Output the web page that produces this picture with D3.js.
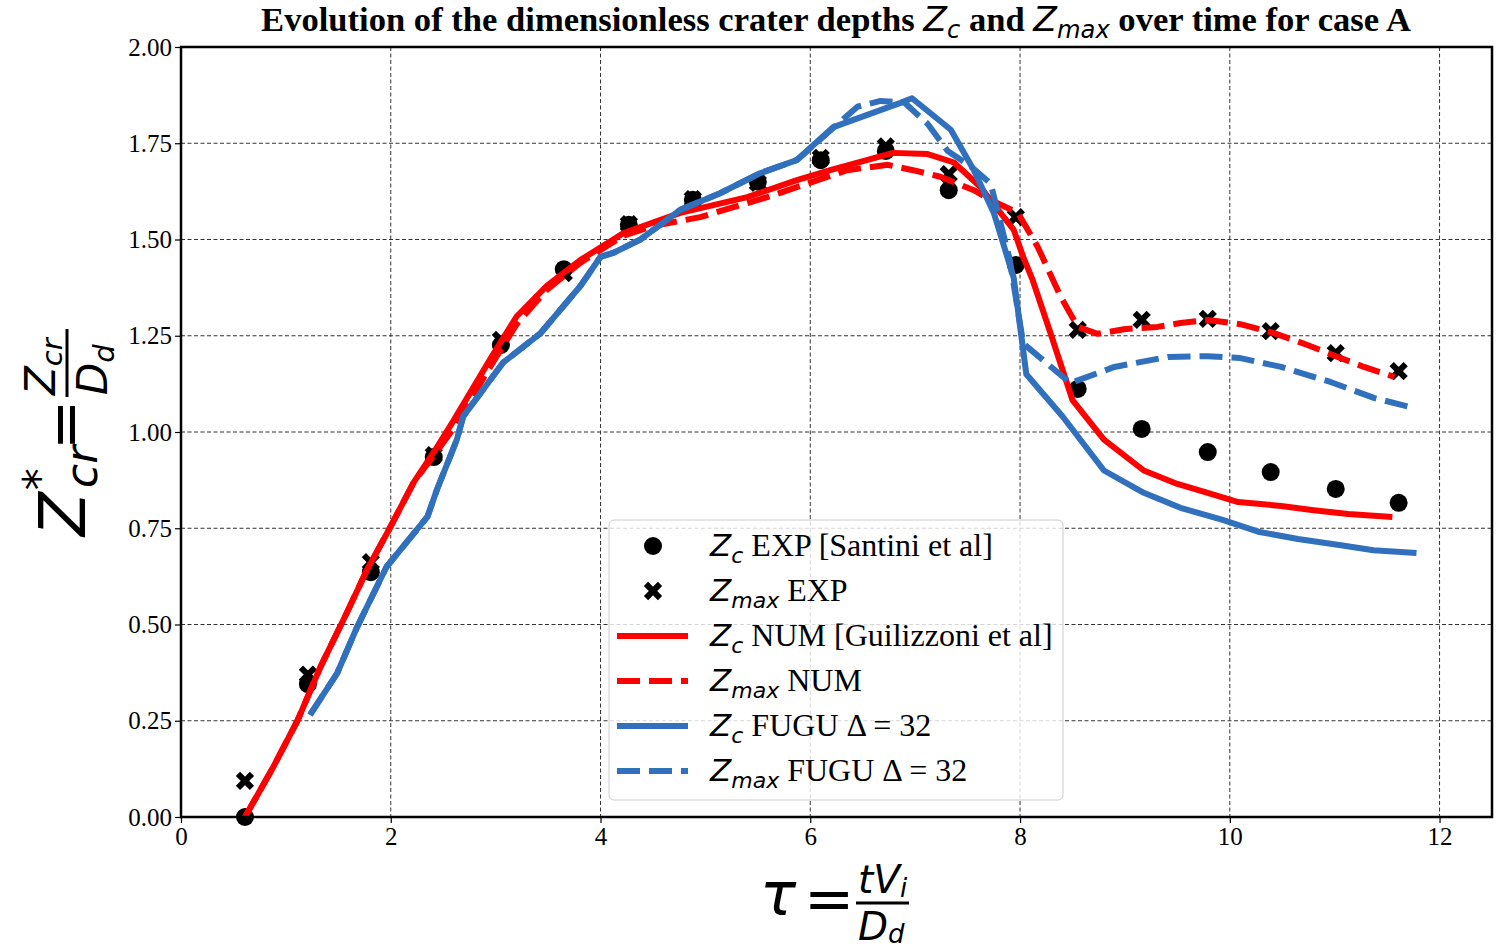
<!DOCTYPE html>
<html>
<head>
<meta charset="utf-8">
<script src="https://cdn.jsdelivr.net/npm/d3@7"></script>
<style>
  html, body { margin: 0; padding: 0; background: #fff; }
  svg { display: block; }
</style>
</head>
<body>
<svg id="chart" width="1498" height="950"></svg>
<script>
// ---------------- data ----------------
const tauExp  = [0.61,1.21,1.81,2.41,3.05,3.65,4.27,4.88,5.50,6.10,6.72,7.32,7.96,8.55,9.16,9.79,10.39,11.01,11.61];
const zcExp   = [0.000,0.345,0.636,0.935,1.226,1.423,1.538,1.603,1.650,1.706,1.730,1.628,1.434,1.112,1.008,0.948,0.896,0.852,0.816];
const zmaxExp = [0.094,0.370,0.662,0.940,1.239,1.413,1.540,1.605,1.647,1.712,1.742,1.670,1.558,1.265,1.291,1.294,1.262,1.205,1.158];

const tauZcNum = [0.61,0.88,1.11,1.33,1.58,1.77,1.99,2.22,2.44,2.60,2.95,3.20,3.49,3.81,4.22,4.76,5.40,5.88,6.19,6.79,7.12,7.37,7.62,7.94,8.03,8.12,8.29,8.50,8.80,9.18,9.50,9.75,10.08,10.49,10.80,11.13,11.55];
const zcNum    = [0.00,0.13,0.25,0.39,0.53,0.64,0.75,0.87,0.96,1.03,1.19,1.30,1.38,1.447,1.517,1.569,1.61,1.655,1.68,1.725,1.722,1.70,1.637,1.525,1.455,1.395,1.257,1.083,0.98,0.90,0.865,0.845,0.818,0.808,0.797,0.787,0.779];

const tauZmaxNum = [0.61,0.88,1.11,1.33,1.58,1.77,1.99,2.22,2.44,2.60,2.95,3.20,3.49,3.81,4.22,4.50,4.95,5.59,6.35,6.74,6.98,7.24,7.56,7.72,7.98,8.17,8.39,8.55,8.74,8.99,9.31,9.53,9.79,10.10,10.42,10.74,11.03,11.28,11.57];
const zmaxNum    = [0.00,0.13,0.25,0.39,0.53,0.64,0.75,0.87,0.95,1.01,1.17,1.28,1.37,1.44,1.51,1.535,1.558,1.61,1.68,1.694,1.68,1.663,1.628,1.603,1.569,1.48,1.35,1.273,1.255,1.267,1.273,1.283,1.291,1.28,1.257,1.226,1.195,1.169,1.143];

const tauZcFugu = [1.23,1.49,1.68,1.96,2.35,2.44,2.63,2.69,3.07,3.43,3.81,4.00,4.12,4.38,4.76,5.14,5.52,5.87,6.22,6.86,6.97,7.34,7.56,7.75,7.94,8.06,8.41,8.80,9.18,9.53,9.94,10.27,10.65,11.06,11.37,11.78];
const zcFugu    = [0.265,0.374,0.494,0.65,0.78,0.85,0.98,1.04,1.18,1.257,1.38,1.455,1.465,1.50,1.577,1.62,1.672,1.706,1.792,1.855,1.867,1.785,1.68,1.569,1.40,1.15,1.039,0.90,0.842,0.803,0.771,0.741,0.722,0.706,0.693,0.686];

const tauZmaxFugu = [1.23,1.49,1.68,1.96,2.35,2.44,2.63,2.69,3.07,3.43,3.81,4.00,4.12,4.38,4.76,5.14,5.52,5.87,6.22,6.45,6.67,6.90,7.12,7.31,7.53,7.72,7.90,8.03,8.48,8.90,9.41,9.79,10.10,10.49,10.96,11.38,11.76];
const zmaxFugu    = [0.265,0.374,0.494,0.65,0.78,0.85,0.98,1.04,1.18,1.257,1.38,1.455,1.465,1.50,1.577,1.62,1.672,1.706,1.79,1.845,1.86,1.855,1.80,1.73,1.69,1.645,1.45,1.23,1.127,1.169,1.195,1.197,1.192,1.169,1.13,1.088,1.062];

const xTicks = [0,2,4,6,8,10,12];
const yTicks = [0,0.25,0.5,0.75,1.0,1.25,1.5,1.75,2.0];

const RED = "#ff0000", BLUE = "#3070bd";
const SERIF = "'Liberation Serif','Times New Roman',serif";
const MATH = "'DejaVu Sans',sans-serif";

// ---------------- setup ----------------
const svg = d3.select("#chart");
const L = 181, T = 47, R = 1492, B = 817;
const x = d3.scaleLinear().domain([0, 12.5]).range([L, R]);
const y = d3.scaleLinear().domain([0, 2]).range([B, T]);

// grid
const grid = svg.append("g").attr("stroke", "#333").attr("stroke-width", 1).attr("stroke-dasharray", "4,2.5");
grid.selectAll("line.v").data(xTicks).join("line").attr("class","v")
  .attr("x1", d => x(d)).attr("x2", d => x(d)).attr("y1", T).attr("y2", B);
grid.selectAll("line.h").data(yTicks).join("line").attr("class","h")
  .attr("x1", L).attr("x2", R).attr("y1", d => y(d)).attr("y2", d => y(d));

// axes
const xAxis = svg.append("g").attr("transform", `translate(0,${B})`)
  .call(d3.axisBottom(x).tickValues(xTicks).tickSize(6).tickPadding(4).tickFormat(d3.format("d")));
const yAxis = svg.append("g").attr("transform", `translate(${L},0)`)
  .call(d3.axisLeft(y).tickValues(yTicks).tickSize(6).tickPadding(3).tickFormat(d3.format(".2f")));
[xAxis, yAxis].forEach(a => {
  a.select(".domain").remove();
  a.selectAll(".tick line").attr("stroke", "#000").attr("stroke-width", 1.2);
  a.selectAll(".tick text").attr("font-family", SERIF).attr("font-size", 25).attr("fill", "#000");
});

// markers (drawn below lines)
const pts = tauExp.map((t, i) => ({t, zc: zcExp[i], zm: zmaxExp[i]}));
svg.append("g").selectAll("circle").data(pts).join("circle")
  .attr("cx", d => x(d.t)).attr("cy", d => y(d.zc)).attr("r", 9).attr("fill", "#000");
const xSym = d3.symbol(d3.symbolX, 130);
svg.append("g").selectAll("path").data(pts).join("path")
  .attr("transform", d => `translate(${x(d.t)},${y(d.zm)})`)
  .attr("d", xSym).attr("stroke", "#000").attr("stroke-width", 6).attr("fill", "none");

// lines
const line = d3.line().x(d => x(d[0])).y(d => y(d[1]));
const series = [
  {t: tauZcNum, v: zcNum, color: RED, dash: null},
  {t: tauZmaxNum, v: zmaxNum, color: RED, dash: "23,9"},
  {t: tauZcFugu, v: zcFugu, color: BLUE, dash: null},
  {t: tauZmaxFugu, v: zmaxFugu, color: BLUE, dash: "23,9"}
];
series.forEach(s => {
  svg.append("path").datum(s.t.map((t, i) => [t, s.v[i]]))
    .attr("d", line).attr("fill", "none").attr("stroke", s.color)
    .attr("stroke-width", 6).attr("stroke-linejoin", "round")
    .attr("stroke-dasharray", s.dash);
});

// frame
svg.append("rect").attr("x", L).attr("y", T).attr("width", R - L).attr("height", B - T)
  .attr("fill", "none").attr("stroke", "#000").attr("stroke-width", 2.5);

// ---------------- legend ----------------
const legend = svg.append("g");
legend.append("rect").attr("x", 609).attr("y", 520).attr("width", 454).attr("height", 280)
  .attr("rx", 5).attr("fill", "#fff").attr("fill-opacity", 0.8).attr("stroke", "#ccc").attr("stroke-width", 1);
const legItems = [
  {type: "circle", sub: "c", label: " EXP [Santini et al]"},
  {type: "x", sub: "max", label: " EXP"},
  {type: "line", color: RED, dash: null, sub: "c", label: " NUM [Guilizzoni et al]"},
  {type: "line", color: RED, dash: "23,9", sub: "max", label: " NUM"},
  {type: "line", color: BLUE, dash: null, sub: "c", label: " FUGU \u0394 = 32"},
  {type: "line", color: BLUE, dash: "23,9", sub: "max", label: " FUGU \u0394 = 32"}
];
legItems.forEach((it, i) => {
  const cy = 546 + i * 45;
  if (it.type === "circle") {
    legend.append("circle").attr("cx", 653).attr("cy", cy).attr("r", 9).attr("fill", "#000");
  } else if (it.type === "x") {
    legend.append("path").attr("transform", `translate(653,${cy})`).attr("d", xSym)
      .attr("stroke", "#000").attr("stroke-width", 6).attr("fill", "none");
  } else {
    legend.append("line").attr("x1", 617).attr("x2", 688).attr("y1", cy).attr("y2", cy)
      .attr("stroke", it.color).attr("stroke-width", 6).attr("stroke-dasharray", it.dash);
  }
  const tx = legend.append("text").attr("x", 710).attr("y", cy + 10).attr("fill", "#000");
  tx.append("tspan").attr("font-family", MATH).attr("font-style", "italic").attr("font-size", 31).text("Z");
  tx.append("tspan").attr("font-family", MATH).attr("font-style", "italic").attr("font-size", 22).attr("dy", 7).text(it.sub);
  tx.append("tspan").attr("font-family", SERIF).attr("font-size", 32).attr("dy", -7).attr("xml:space", "preserve").text(it.label);
});

// ---------------- title ----------------
const title = svg.append("text").attr("x", 836).attr("y", 31).attr("text-anchor", "middle").attr("fill", "#000");
function addT(sel, txt, opts) {
  const s = sel.append("tspan").text(txt).attr("xml:space", "preserve");
  Object.entries(opts).forEach(([k, v]) => s.attr(k, v));
  return s;
}
const titleParts = [
  ["Evolution of the dimensionless crater depths ", "serif", 0],
  ["Z", "math", 0], ["c", "sub", 1],
  [" and ", "serif", -1],
  ["Z", "math", 0], ["max", "sub", 1],
  [" over time for case A", "serif", -1]
];
function drawTitle(TF) {
  title.selectAll("*").remove();
  const TS = TF * 0.7, shift = TF * 0.2;
  titleParts.forEach(([txt, kind, d]) => {
    const o = kind === "serif"
      ? {"font-family": SERIF, "font-weight": "bold", "font-size": TF}
      : {"font-family": MATH, "font-style": "italic", "font-size": kind === "sub" ? TS : TF};
    if (d) o.dy = d * shift;
    addT(title, txt, o);
  });
}
drawTitle(30);
const tw = title.node().getComputedTextLength();
drawTitle(30 * 1150 / tw);

// ---------------- x label: tau = tV_i / D_d ----------------
const xl = svg.append("g").attr("fill", "#000");
xl.append("text").attr("x", 760).attr("y", 915).attr("font-family", MATH).attr("font-style", "italic").attr("font-size", 60).text("\u03c4");
xl.append("text").attr("x", 804).attr("y", 919).attr("font-family", MATH).attr("font-size", 60).text("=");
const num = xl.append("text").attr("x", 858).attr("y", 893).attr("font-family", MATH).attr("font-style", "italic").attr("font-size", 39);
num.append("tspan").text("tV");
num.append("tspan").attr("font-size", 26).attr("dy", 4).text("i");
xl.append("line").attr("x1", 856).attr("x2", 909).attr("y1", 903).attr("y2", 903).attr("stroke", "#000").attr("stroke-width", 3);
const den = xl.append("text").attr("x", 858).attr("y", 940).attr("font-family", MATH).attr("font-style", "italic").attr("font-size", 39);
den.append("tspan").text("D");
den.append("tspan").attr("font-size", 26).attr("dy", 3).text("d");

// ---------------- y label: Z*_cr = Z_cr / D_d ----------------
const yl = svg.append("g").attr("transform", "translate(85,536) rotate(-90)").attr("fill", "#000");
const zm = yl.append("text").attr("x", 0).attr("y", 0).attr("font-family", MATH).attr("font-style", "italic").attr("font-size", 64);
zm.append("tspan").text("Z");
zm.append("tspan").attr("font-size", 44).attr("font-style", "normal").attr("dy", -30).attr("dx", 2).text("*");
yl.append("text").attr("x", 48).attr("y", 12).attr("font-family", MATH).attr("font-style", "italic").attr("font-size", 44).text("cr");
yl.append("text").attr("x", 86).attr("y", 0).attr("font-family", MATH).attr("font-size", 60).text("=");
const ynum = yl.append("text").attr("x", 141).attr("y", -30).attr("font-family", MATH).attr("font-style", "italic").attr("font-size", 42);
ynum.append("tspan").text("Z");
ynum.append("tspan").attr("font-size", 29).attr("dy", 7).text("cr");
yl.append("line").attr("x1", 139).attr("x2", 207).attr("y1", -18).attr("y2", -18).attr("stroke", "#000").attr("stroke-width", 3);
const yden = yl.append("text").attr("x", 141).attr("y", 22).attr("font-family", MATH).attr("font-style", "italic").attr("font-size", 42);
yden.append("tspan").text("D");
yden.append("tspan").attr("font-size", 29).attr("dy", 7).text("d");
</script>
</body>
</html>
